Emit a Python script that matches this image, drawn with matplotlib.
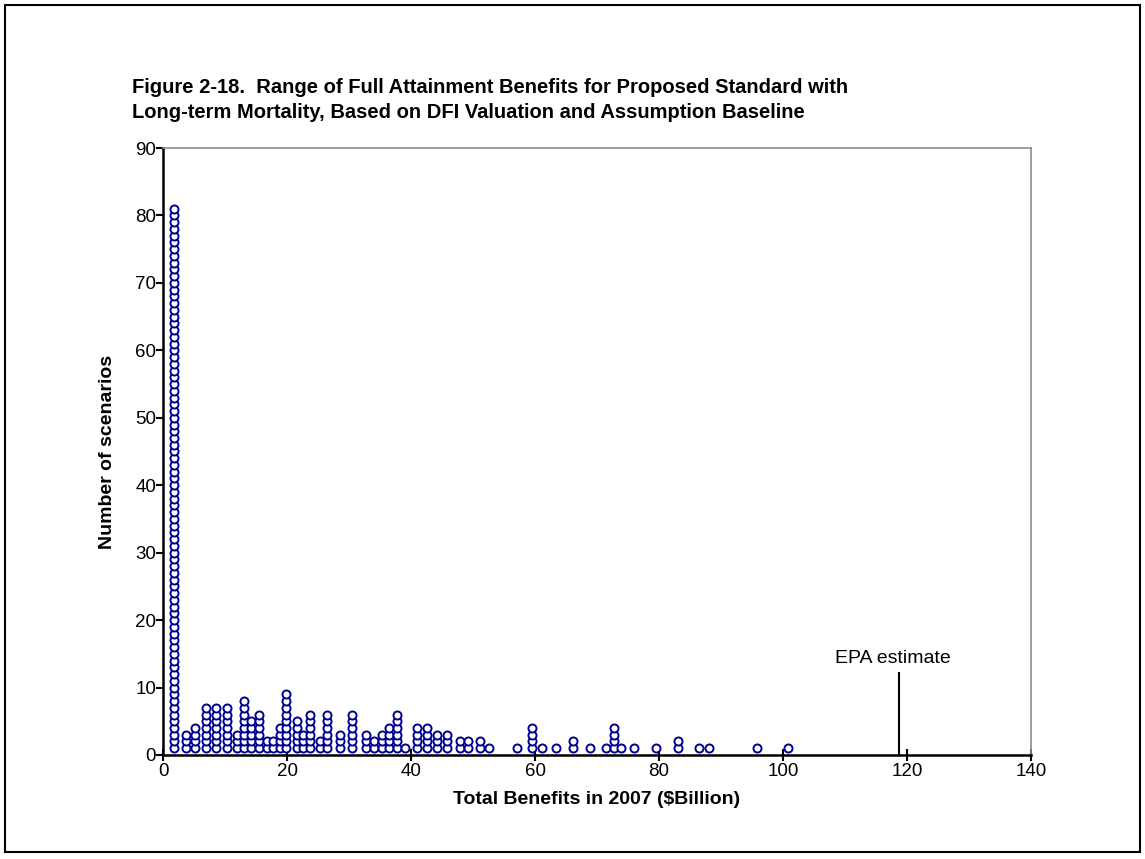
import numpy as np
import matplotlib
matplotlib.use("Agg")
import matplotlib.pyplot as plt
from matplotlib.patches import Rectangle

plt.rcParams['font.family'] = ['Liberation Sans', 'DejaVu Sans']

# benefit value of each column (billion $) and number of scenarios stacked there
benefit = [1.7, 3.7, 5.2, 6.9, 8.5, 10.3, 12.0, 13.1, 14.2, 15.5, 16.7, 17.7, 18.8,
           19.9, 21.6, 22.5, 23.7, 25.3, 26.5, 28.5, 30.5, 32.7, 34.0, 35.3, 36.5,
           37.7, 39.0, 40.9, 42.5, 44.2, 45.8, 47.9, 49.2, 51.1, 52.6, 57.1, 59.5,
           61.2, 63.4, 66.1, 68.9, 71.5, 72.8, 73.8, 76.0, 79.5, 83.1, 86.5, 88.1,
           95.8, 100.8]
n_scen = [81, 3, 4, 7, 7, 7, 3, 8, 5, 6, 2, 2, 4,
          9, 5, 3, 6, 2, 6, 3, 6, 3, 2, 3, 4,
          6, 1, 4, 4, 3, 3, 2, 2, 2, 1, 1, 4,
          1, 1, 2, 1, 1, 4, 1, 1, 1, 2, 1, 1,
          1, 1]
epa_estimate = 118.7
x_ticks = [0, 20, 40, 60, 80, 100, 120, 140]
y_ticks = [0, 10, 20, 30, 40, 50, 60, 70, 80, 90]

# expand into one dot per scenario, stacked 1..n in each column
xs = np.repeat(benefit, n_scen)
ys = np.concatenate([np.arange(1, n + 1) for n in n_scen])

fig = plt.figure(figsize=(11.45, 8.59), dpi=100)
fig.patches.append(Rectangle((5 / 1145, 7 / 859), 1135 / 1145, 847 / 859,
                             transform=fig.transFigure, fill=False,
                             edgecolor='black', linewidth=1.5))

ax = fig.add_axes([0.1424, 0.1211, 0.758, 0.7066])
ax.plot(xs, ys, linestyle='none', marker='o', markersize=5.8,
        markerfacecolor='white', markeredgecolor='#000090', markeredgewidth=1.4,
        clip_on=False, zorder=3)

ax.plot([epa_estimate, epa_estimate], [0, 12.2], color='black', linewidth=1.5)
ax.text(epa_estimate - 0.9, 14.3, 'EPA estimate', ha='center', va='center', fontsize=14)

ax.set_xlim(0, 140)
ax.set_ylim(0, 90)
ax.set_xticks(x_ticks)
ax.set_yticks(y_ticks)
ax.tick_params(axis='x', direction='inout', length=9, width=1.5, labelsize=13.5, pad=1)
ax.tick_params(axis='y', direction='out', length=5, width=1.5, labelsize=13.5, pad=0)
for s in ['left', 'bottom']:
    ax.spines[s].set_linewidth(1.8)
for s in ['top', 'right']:
    ax.spines[s].set_color('#8c8c8c')
    ax.spines[s].set_linewidth(1.2)

ax.set_xlabel('Total Benefits in 2007 ($Billion)', fontsize=14, fontweight='bold', labelpad=8)
ax.set_ylabel('Number of scenarios', fontsize=14, fontweight='bold', labelpad=14)

fig.text(132 / 1145, 1 - 100 / 859,
         'Figure 2-18.  Range of Full Attainment Benefits for Proposed Standard with\n'
         'Long-term Mortality, Based on DFI Valuation and Assumption Baseline',
         ha='left', va='center', fontsize=14.5, fontweight='bold', linespacing=1.45)

fig.savefig('out.png', dpi=100)
